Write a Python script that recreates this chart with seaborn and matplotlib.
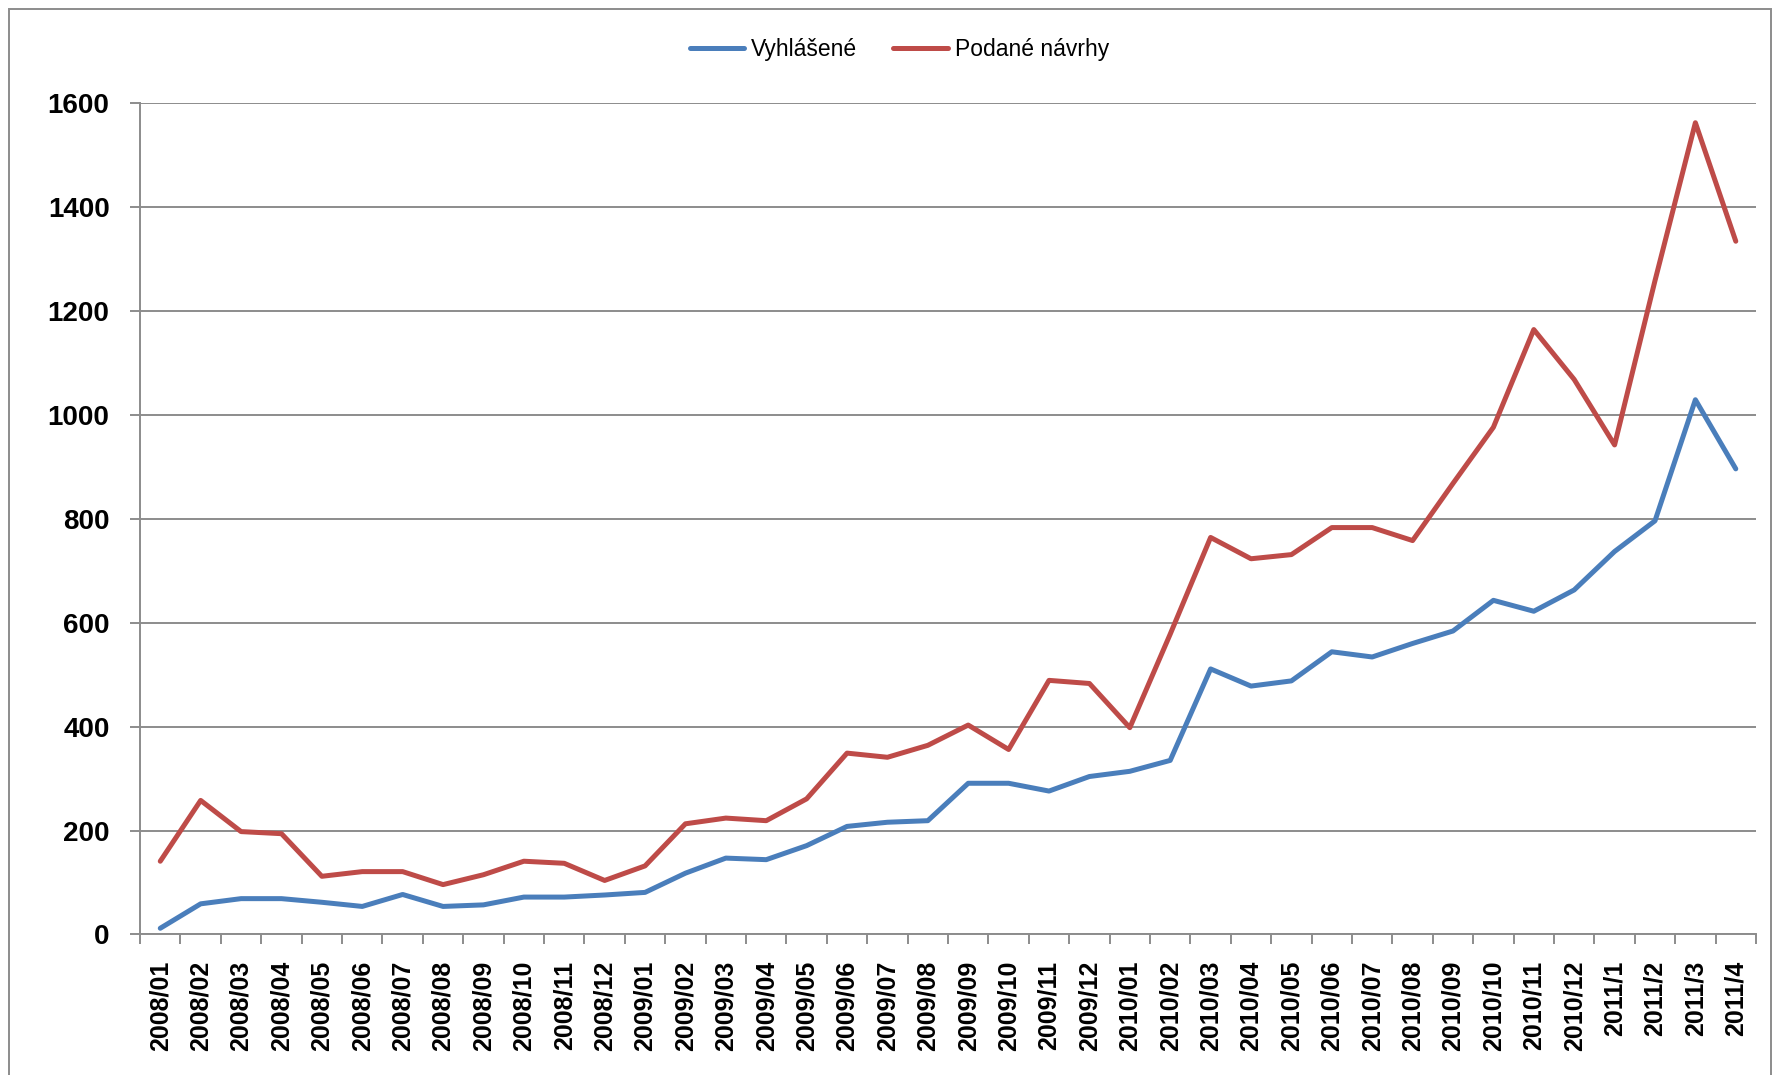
import numpy as np
import pandas as pd
import matplotlib
matplotlib.use("Agg")
import matplotlib.pyplot as plt
from matplotlib.patches import Rectangle
import seaborn as sns

# mesiace
months = ["2008/01", "2008/02", "2008/03", "2008/04", "2008/05", "2008/06",
          "2008/07", "2008/08", "2008/09", "2008/10", "2008/11", "2008/12",
          "2009/01", "2009/02", "2009/03", "2009/04", "2009/05", "2009/06",
          "2009/07", "2009/08", "2009/09", "2009/10", "2009/11", "2009/12",
          "2010/01", "2010/02", "2010/03", "2010/04", "2010/05", "2010/06",
          "2010/07", "2010/08", "2010/09", "2010/10", "2010/11", "2010/12",
          "2011/1", "2011/2", "2011/3", "2011/4"]

vyhlasene = [12, 59, 69, 69, 62, 54, 77, 54, 57, 72, 72, 76, 81,
             118, 147, 144, 171, 208, 216, 219, 291, 291, 276, 304,
             314, 335, 511, 478, 488, 544, 534, 560, 584, 643, 622, 663,
             737, 796, 1029, 896]

podane = [141, 258, 198, 194, 112, 121, 121, 96, 115, 141, 137, 104, 132,
          213, 224, 219, 261, 349, 341, 364, 403, 356, 489, 483,
          398, 578, 764, 723, 731, 783, 783, 758, 868, 976, 1164, 1068,
          942, 1258, 1562, 1334]

series_names = ["Vyhlášené", "Podané návrhy"]
colors = {"Vyhlášené": "#4A7EBB", "Podané návrhy": "#BE4B48"}

df = pd.DataFrame({
    "idx": list(range(len(months))) * 2,
    "pocet": vyhlasene + podane,
    "rada": [series_names[0]] * len(months) + [series_names[1]] * len(months),
})

sns.set_style("white")
plt.rcParams["font.family"] = ["Liberation Sans", "DejaVu Sans"]
plt.rcParams["text.color"] = "black"

fig = plt.figure(figsize=(17.73, 10.75), dpi=100)
ax = fig.add_axes([0.0790, 0.1307, 0.9114, 0.7735])

sns.lineplot(data=df, x="idx", y="pocet", hue="rada", hue_order=series_names,
             palette=colors, linewidth=3.6, ax=ax,
             solid_joinstyle="round", solid_capstyle="round")

grid_col = "#8C8C8C"
ax.set_ylim(0, 1600)
ax.set_xlim(-0.5, len(months) - 0.5)
ax.set_yticks(np.arange(0, 1601, 200))
ax.yaxis.grid(True, color=grid_col, linewidth=1.4)
ax.set_axisbelow(True)

# ticks on category boundaries, labels in the middle
ax.set_xticks(np.arange(-0.5, len(months), 1))
ax.set_xticklabels([])
ax.set_xticks(np.arange(len(months)), minor=True)
ax.set_xticklabels(months, minor=True, rotation=90, fontsize=18, fontweight="bold")
ax.tick_params(axis="x", which="major", direction="out", length=7, width=1.4,
               color=grid_col, bottom=True)
ax.tick_params(axis="x", which="minor", length=0, pad=19, labelcolor="black")
ax.tick_params(axis="y", direction="out", length=7, width=1.4, color=grid_col,
               left=True, pad=15, labelsize=20, labelcolor="black")
for lab in ax.get_yticklabels():
    lab.set_fontweight("bold")

for side in ["top", "right"]:
    ax.spines[side].set_visible(False)
for side in ["left", "bottom"]:
    ax.spines[side].set_color(grid_col)
    ax.spines[side].set_linewidth(1.4)

ax.set_xlabel("")
ax.set_ylabel("")

handles, labels = ax.get_legend_handles_labels()
leg = ax.legend(handles, labels, loc="center", bbox_to_anchor=(0.5073, 0.954),
                bbox_transform=fig.transFigure, ncol=2, frameon=False, fontsize=16.5,
                handlelength=2.37, handletextpad=0.3, columnspacing=1.57)
for t in leg.get_texts():
    t.set_color("black")

# outer frame of the chart
fig.patches.append(Rectangle((9 / 1773, -0.01), 1762 / 1773, 1 - 9 / 1075 + 0.01,
                             transform=fig.transFigure, fill=False,
                             edgecolor="#8C8C8C", linewidth=1.4))

fig.savefig("out.png", dpi=100)
